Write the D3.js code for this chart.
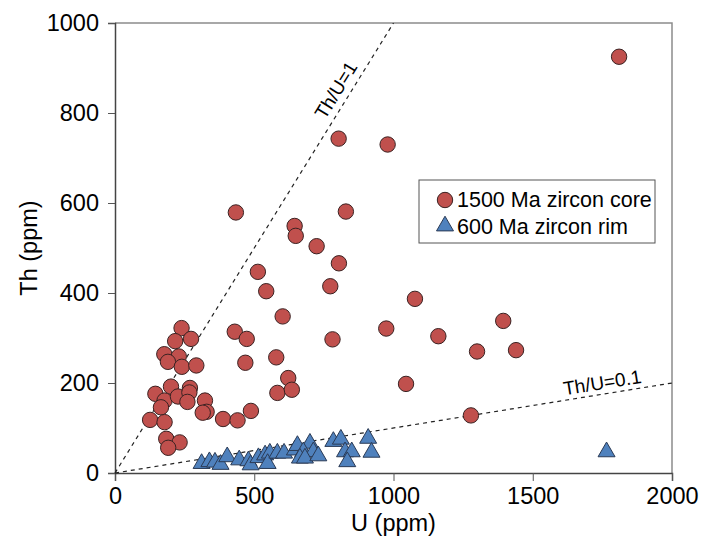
<!DOCTYPE html>
<html>
<head>
<meta charset="utf-8">
<script src="https://d3js.org/d3.v7.min.js"></script>
<style>
  body { margin: 0; background: #fff; }
  text { font-family: "Liberation Sans", Arial, sans-serif; }
</style>
</head>
<body>
<div id="chart_area"></div>
<script>
// 1500 Ma zircon core (U, Th)
let coreU  = [1810, 803, 979, 434, 829, 645, 649, 724, 804, 513, 543, 773, 1077, 602, 1394, 430, 473, 781, 974, 1161,
              1300, 1440, 468, 579, 622, 583, 635, 1045, 1278, 239, 216, 273, 177, 229, 190, 240, 292, 201, 145, 178,
              165, 226, 269, 267, 260, 323, 329, 315, 388, 440, 488, 126, 178, 184, 232, 191];
let coreTh = [925, 743, 730, 579, 581, 549, 527, 504, 466, 447, 404, 415, 387, 348, 338, 314, 298, 297, 321, 304,
              270, 273, 245, 257, 211, 178, 185, 198, 128, 322, 293, 298, 264, 259, 247, 236, 239, 192, 176, 161,
              146, 170, 189, 179, 158, 161, 136, 134, 120, 117, 138, 118, 113, 76, 68, 56];
// 600 Ma zircon rim (U, Th)
let rimU  = [311, 339, 359, 379, 403, 446, 479, 487, 515, 539, 556, 548, 583, 607, 646, 655, 700, 676, 712, 664,
             682, 730, 784, 811, 909, 826, 850, 921, 834, 1765];
let rimTh = [21, 25, 24, 19, 36, 29, 27, 18, 34, 40, 44, 21, 44, 44, 51, 61, 66, 47, 47, 33,
             33, 38, 70, 75, 77, 47, 47, 46, 25, 47];
// reference lines Th/U
let ratios = [1, 0.1];
let xTicks = [0, 500, 1000, 1500, 2000];
let yTicks = [0, 200, 400, 600, 800, 1000];

let width = 707, height = 556;
let mLeft = 115, mRight = 672, mTop = 23, mBottom = 473;

let svg = d3.select("#chart_area").append("svg")
    .attr("width", width)
    .attr("height", height);

let x = d3.scaleLinear().domain([0, 2000]).range([mLeft, mRight]);
let y = d3.scaleLinear().domain([0, 1000]).range([mBottom, mTop]);

// frame (top + right)
svg.append("path")
    .attr("d", `M${mLeft},${mTop}H${mRight}V${mBottom}`)
    .attr("fill", "none")
    .attr("stroke", "#8c8c8c")
    .attr("stroke-width", 1.5);

// axes
let xAxis = svg.append("g")
    .attr("transform", `translate(0,${mBottom})`)
    .call(d3.axisBottom(x).tickValues(xTicks).tickFormat(d3.format("d")).tickSize(8).tickPadding(6));
let yAxis = svg.append("g")
    .attr("transform", `translate(${mLeft},0)`)
    .call(d3.axisLeft(y).tickValues(yTicks).tickFormat(d3.format("d")).tickSize(7).tickPadding(9));
[xAxis, yAxis].forEach(a => {
    a.select(".domain").attr("stroke", "#444").attr("stroke-width", 1.5);
    a.selectAll(".tick line").attr("stroke", "#555");
    a.selectAll(".tick text").style("font-size", "23.5px").attr("fill", "#000");
});

// Th/U lines
ratios.forEach(r => {
    let uEnd = Math.min(2000, 1000 / r);
    svg.append("line")
        .attr("x1", x(0)).attr("y1", y(0))
        .attr("x2", x(uEnd)).attr("y2", y(uEnd * r))
        .attr("stroke", "#222")
        .attr("stroke-width", 1.2)
        .attr("stroke-dasharray", "4,4");
});

function lineAngle(r) {
    return -Math.atan((y(0) - y(1000 * r)) / (x(1000) - x(0))) * 180 / Math.PI;
}
svg.append("text")
    .attr("transform", `translate(${x(835)},${y(835)}) rotate(${lineAngle(1)}) translate(0,-7)`)
    .attr("text-anchor", "middle")
    .style("font-size", "19px")
    .text("Th/U=1");
svg.append("text")
    .attr("transform", `translate(${x(1756)},${y(175.6)}) rotate(${lineAngle(0.1)}) translate(0,-5)`)
    .attr("text-anchor", "middle")
    .style("font-size", "19px")
    .text("Th/U=0.1");

// markers
let tri = d3.symbol().type(d3.symbolTriangle).size(125);

svg.selectAll(".core")
    .data(coreU.map((u, i) => [u, coreTh[i]]))
    .join("circle")
    .attr("class", "core")
    .attr("cx", d => x(d[0]))
    .attr("cy", d => y(d[1]))
    .attr("r", 7.7)
    .attr("fill", "#c0504d")
    .attr("stroke", "#3a2222")
    .attr("stroke-width", 1);

svg.selectAll(".rim")
    .data(rimU.map((u, i) => [u, rimTh[i]]))
    .join("path")
    .attr("class", "rim")
    .attr("transform", d => `translate(${x(d[0])},${y(d[1])})`)
    .attr("d", tri)
    .attr("fill", "#4f81bd")
    .attr("stroke", "#2a3a55")
    .attr("stroke-width", 1);

// legend
let lg = svg.append("g").attr("transform", "translate(419,180)");
lg.append("rect")
    .attr("width", 236).attr("height", 63)
    .attr("fill", "#fff")
    .attr("stroke", "#555")
    .attr("stroke-width", 1);
lg.append("circle")
    .attr("cx", 26).attr("cy", 20).attr("r", 7.7)
    .attr("fill", "#c0504d").attr("stroke", "#3a2222");
lg.append("path")
    .attr("transform", "translate(26,46)")
    .attr("d", tri)
    .attr("fill", "#4f81bd").attr("stroke", "#2a3a55");
lg.append("text").attr("x", 38).attr("y", 27).style("font-size", "21.5px").text("1500 Ma zircon core");
lg.append("text").attr("x", 38).attr("y", 54).style("font-size", "21.5px").text("600 Ma zircon rim");

// axis titles
svg.append("text")
    .attr("x", (mLeft + mRight) / 2).attr("y", 531)
    .attr("text-anchor", "middle")
    .style("font-size", "23.5px")
    .text("U (ppm)");
svg.append("text")
    .attr("transform", `translate(37,${(mTop + mBottom) / 2}) rotate(-90)`)
    .attr("text-anchor", "middle")
    .style("font-size", "23.5px")
    .text("Th (ppm)");
</script>
</body>
</html>
